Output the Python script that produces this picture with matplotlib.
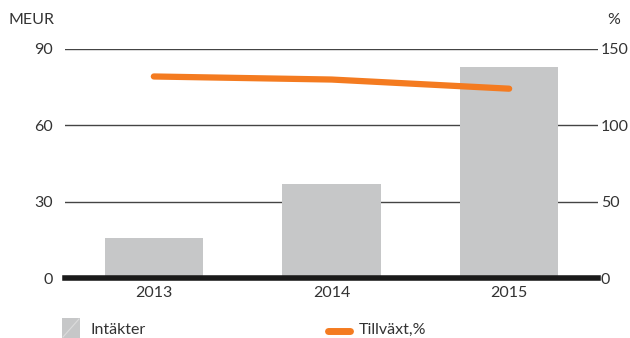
import matplotlib.pyplot as plt
from matplotlib.patches import Rectangle
from matplotlib.lines import Line2D

# Intäkter (MEUR) och tillväxt (%) per år
years = ['2013', '2014', '2015']
intakter = [15.7, 37.0, 83.0]
tillvaxt = [132, 130, 124]

left_ticks = [0, 30, 60, 90]
right_ticks = [0, 50, 100, 150]

bar_color = '#c6c7c8'
line_color = '#f47b20'
text_color = '#333333'

plt.rcParams['font.family'] = ['Lato', 'DejaVu Sans']
fs = 11.5

fig = plt.figure(figsize=(6.3, 3.38), dpi=100)
ax = fig.add_axes([65 / 630, 1 - 278 / 338, 533 / 630, 229 / 338])
ax2 = ax.twinx()

x = range(len(years))
ax.bar(x, intakter, width=0.555, color=bar_color, zorder=2)
ax.set_xlim(-0.5, 2.5)
ax.set_ylim(0, 90)
ax.set_yticks(left_ticks)
ax.set_xticks(list(x))
ax.set_xticklabels(years)

# horisontella stödlinjer bakom staplarna
for t in left_ticks[1:]:
    ax.axhline(t, color='#444444', lw=1.0, zorder=1)
ax.axhline(0, color='#1a1a1a', lw=4, zorder=3, clip_on=False)

ax2.plot(x, tillvaxt, color=line_color, lw=4.5, solid_capstyle='round', zorder=4)
ax2.set_ylim(0, 150)
ax2.set_yticks(right_ticks)

for a in (ax, ax2):
    for s in a.spines.values():
        s.set_visible(False)
    a.tick_params(length=0, colors=text_color, labelsize=fs)
ax.tick_params(axis='y', pad=9)
ax2.tick_params(axis='y', pad=2)
ax.tick_params(axis='x', pad=6)

fig.text(55 / 630, 1 - 20 / 338, 'MEUR', ha='right', va='center', color=text_color, fontsize=fs)
fig.text(620 / 630, 1 - 20 / 338, '%', ha='right', va='center', color=text_color, fontsize=fs)

# teckenförklaring
fig.add_artist(Rectangle((62 / 630, 0), 18 / 630, 20 / 338, transform=fig.transFigure,
                         facecolor=bar_color, edgecolor='none'))
fig.add_artist(Line2D([63 / 630, 79 / 630], [1 / 338, 19 / 338], transform=fig.transFigure,
                      color='#dcdcdc', lw=0.8))
fig.text(90 / 630, 1 - 330 / 338, 'Intäkter', ha='left', va='center', color=text_color, fontsize=fs)
fig.add_artist(Line2D([328 / 630, 350 / 630], [1 - 331 / 338, 1 - 331 / 338], transform=fig.transFigure,
                      color=line_color, lw=5, solid_capstyle='round'))
fig.text(359 / 630, 1 - 330 / 338, 'Tillväxt,%', ha='left', va='center', color=text_color, fontsize=fs)

fig.savefig('out.png', dpi=100)
